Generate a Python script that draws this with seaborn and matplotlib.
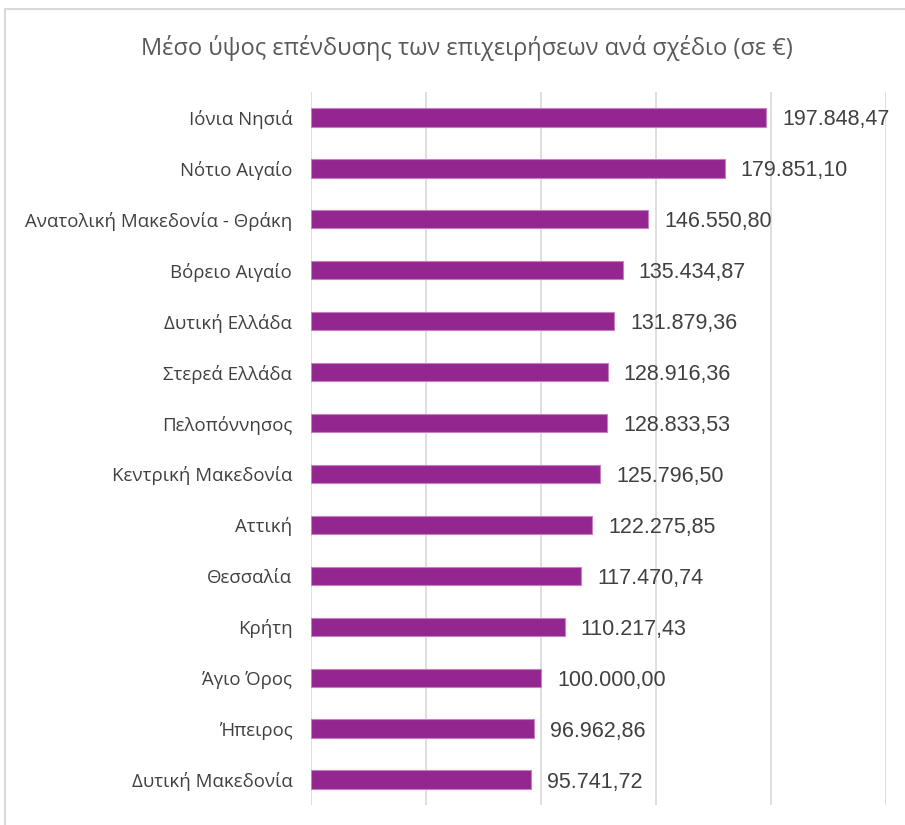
import matplotlib
matplotlib.use("Agg")
import matplotlib.pyplot as plt
import seaborn as sns
import pandas as pd
from matplotlib.patches import Rectangle

regions = ["Ιόνια Νησιά", "Νότιο Αιγαίο", "Ανατολική Μακεδονία - Θράκη", "Βόρειο Αιγαίο",
           "Δυτική Ελλάδα", "Στερεά Ελλάδα", "Πελοπόννησος", "Κεντρική Μακεδονία",
           "Αττική", "Θεσσαλία", "Κρήτη", "Άγιο Όρος", "Ήπειρος", "Δυτική Μακεδονία"]
values = [197848.47, 179851.10, 146550.80, 135434.87, 131879.36, 128916.36, 128833.53,
          125796.50, 122275.85, 117470.74, 110217.43, 100000.00, 96962.86, 95741.72]
title = "Μέσο ύψος επένδυσης των επιχειρήσεων ανά σχέδιο (σε €)"

df = pd.DataFrame({"region": regions, "value": values})

sns.set_theme(style="white")
plt.rcParams['font.family'] = ['Open Sans', 'DejaVu Sans']

fig = plt.figure(figsize=(9.05, 8.25), dpi=100)
ax = fig.add_axes([311/905, 1-805/825, (886-311)/905, (805-92)/825])

sns.barplot(data=df, x="value", y="region", orient="h", color="#93278F",
            saturation=1, width=0.36, edgecolor="#c77fc3", linewidth=0.8, ax=ax, zorder=3)

ax.set_xlim(0, 250000)
ax.set_xticks([0, 50000, 100000, 150000, 200000, 250000])
ax.xaxis.grid(True, color="#d9d9d9", linewidth=1.2, zorder=0)
ax.set_axisbelow(True)
ax.set_xticklabels([])
ax.set_xlabel("")
ax.set_ylabel("")
for s in ax.spines.values():
    s.set_visible(False)
ax.tick_params(axis="y", length=0, pad=13.5, labelsize=13.4, labelcolor="#404040")
ax.tick_params(axis="x", length=0)

def fmt(v):
    s = f"{v:,.2f}"
    return s.replace(",", "X").replace(".", ",").replace("X", ".")

for i, v in enumerate(values):
    ax.text(v + 7000, i, fmt(v), va="center_baseline", ha="left", fontsize=15.5, color="#404040",
            family=['Liberation Sans', 'DejaVu Sans'])

fig.text(467/905, 1-48/825, title, ha="center", va="center", fontsize=17, color="#595959")

fig.patches.append(Rectangle((5/905, -0.1), 1.0, 1-9/825+0.1, transform=fig.transFigure,
                             fill=False, edgecolor="#d9d9d9", linewidth=1.5))

fig.savefig("out.png", dpi=100, facecolor="white")
